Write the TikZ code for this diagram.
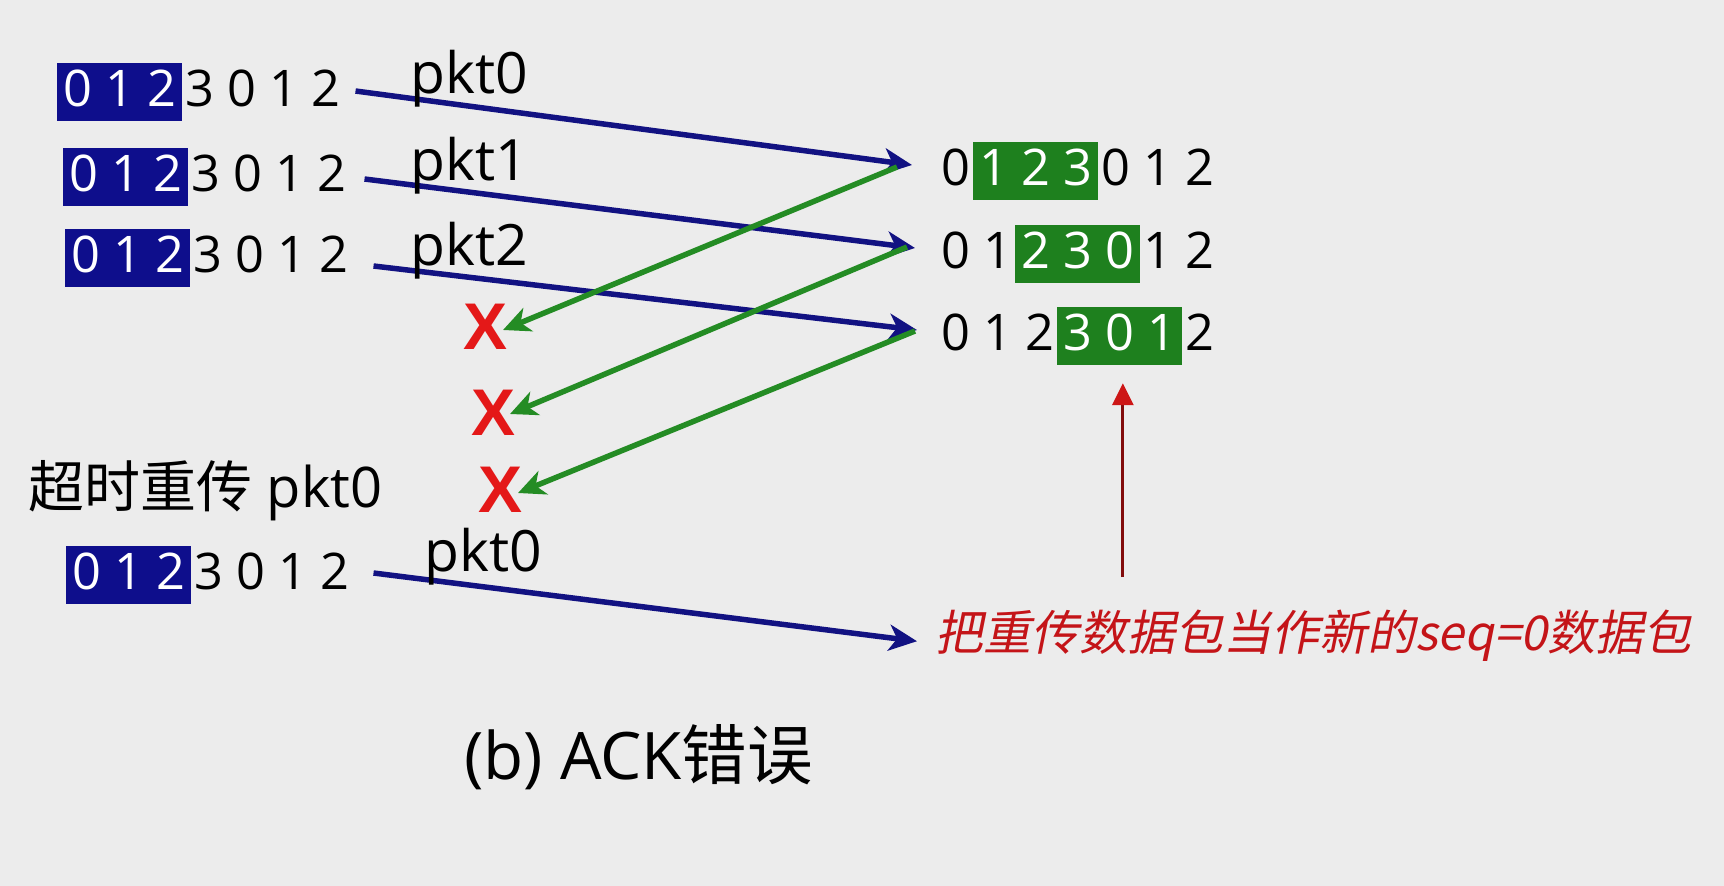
\documentclass[tikz,border=0pt]{standalone}
\usepackage{fontspec}
\setmainfont{Open Sans}
\newfontfamily\cjk{Noto Sans CJK SC}
\newfontfamily\cjkit[FakeSlant=0.2]{Noto Sans CJK SC}
\newfontfamily\xfont{Liberation Sans}
\usetikzlibrary{arrows.meta,calc}
\definecolor{bg}{RGB}{236,236,236}
\definecolor{winblue}{RGB}{14,14,140}
\definecolor{arrblue}{RGB}{18,18,130}
\definecolor{wingreen}{RGB}{30,128,30}
\definecolor{arrgreen}{RGB}{36,140,36}
\definecolor{xred}{RGB}{228,24,24}
\definecolor{notered}{RGB}{196,20,24}
\definecolor{darkred}{RGB}{130,12,12}
\definecolor{tipred}{RGB}{205,22,22}
\tikzset{
 digits/.style={font=\fontsize{50.5}{58}\selectfont, text height=36pt, text depth=8pt, inner ysep=7pt, inner xsep=3pt, anchor=base west},
 bwin/.style={digits, fill=winblue, text=white, inner xsep=6pt},
 gwin/.style={digits, fill=wingreen, text=white, inner xsep=6pt},
 pktlabel/.style={font=\fontsize{57}{63}\selectfont, inner sep=0pt, anchor=base west},
 xmark/.style={font=\xfont\bfseries\fontsize{66}{72}\selectfont, text=xred, inner sep=0pt},
 sendarrow/.style={draw=arrblue, line width=5.5pt, -{Stealth[length=28pt,width=26pt,inset=8pt]}},
 ackarrow/.style={draw=arrgreen, line width=5.5pt, -{Stealth[length=27pt,width=25pt,inset=8pt]}},
 notearrow/.style={draw=darkred, line width=3pt, -{Triangle[length=22pt,width=21pt,color=tipred]}},
}
\begin{document}
\begin{tikzpicture}[x=1pt,y=-1pt]
\fill[bg] (0,0) rectangle (1724,886);
\useasboundingbox (0,0) rectangle (1724,886);
% sender rows
\node[bwin] (s1w) at (57,106) {0 1 2};
\node[digits] (s1r) at (s1w.base east) {3 0 1 2};
\node[bwin] (s2w) at (63,191) {0 1 2};
\node[digits] (s2r) at (s2w.base east) {3 0 1 2};
\node[bwin] (s3w) at (65,272) {0 1 2};
\node[digits] (s3r) at (s3w.base east) {3 0 1 2};
\node[bwin] (s4w) at (66,589) {0 1 2};
\node[digits] (s4r) at (s4w.base east) {3 0 1 2};
% receiver rows
\node[digits] (r1a) at (938,185) {0};
\node[gwin] (r1b) at (r1a.base east) {1 2 3};
\node[digits] (r1c) at (r1b.base east) {0 1 2};
\node[digits] (r2a) at (938,268) {0 1};
\node[gwin] (r2b) at (r2a.base east) {2 3 0};
\node[digits] (r2c) at (r2b.base east) {1 2};
\node[digits] (r3a) at (938,350) {0 1 2};
\node[gwin] (r3b) at (r3a.base east) {3 0 1};
\node[digits] (r3c) at (r3b.base east) {2};
% lost ACK marks
\node[xmark] (x1) at (486,327) {X};
\node[xmark] (x2) at (494,413) {X};
\node[xmark] (x3) at (501,490) {X};
% note and caption
\node[font=\cjkit\fontsize{48}{56}\selectfont, text=notered, inner sep=0pt, anchor=base west] (note) at (935,650) {把重传数据包当作新的seq=0数据包};
\node[font=\fontsize{65.5}{72}\selectfont, inner sep=0pt, anchor=base west] (cap) at (464,779) {(b) ACK{\cjk 错误}};
\node[pktlabel, font=\fontsize{56}{62}\selectfont] (tmo) at (28,507) {{\cjk 超时重传} pkt0};
% data arrows
\draw[sendarrow] ([shift={(12,-1)}]s1r.east) -- ([shift={(-26,-6)}]r1a.west);
\draw[sendarrow] ([shift={(15,2)}]s2r.east) -- ([shift={(-23,-6)}]r2a.west);
\draw[sendarrow] ([shift={(22,8)}]s3r.east) -- ([shift={(-21,-6)}]r3a.west);
\draw[sendarrow] ([shift={(21,-2)}]s4r.east) -- ([shift={(-18,6)}]note.west);
% ack arrows
\draw[ackarrow] ([shift={(-41,-4)}]r1a.west) -- ([shift={(17,3)}]x1.center);
\draw[ackarrow] ([shift={(-31,-7)}]r2a.west) -- ([shift={(16,1)}]x2.center);
\draw[ackarrow] ([shift={(-23,-5)}]r3a.west) -- ([shift={(17,3)}]x3.center);
% note arrow
\coordinate (nfoot) at ([shift={(3,212)}]r3b.south);
\draw[notearrow] (nfoot) -- ([shift={(3,18)}]r3b.south);
% packet labels
\node[pktlabel] (p0) at (410,93) {pkt0};
\node[pktlabel] (p1) at (410,180) {pkt1};
\node[pktlabel] (p2) at (410,265) {pkt2};
\node[pktlabel] (p3) at (424,571) {pkt0};
\end{tikzpicture}
\end{document}
